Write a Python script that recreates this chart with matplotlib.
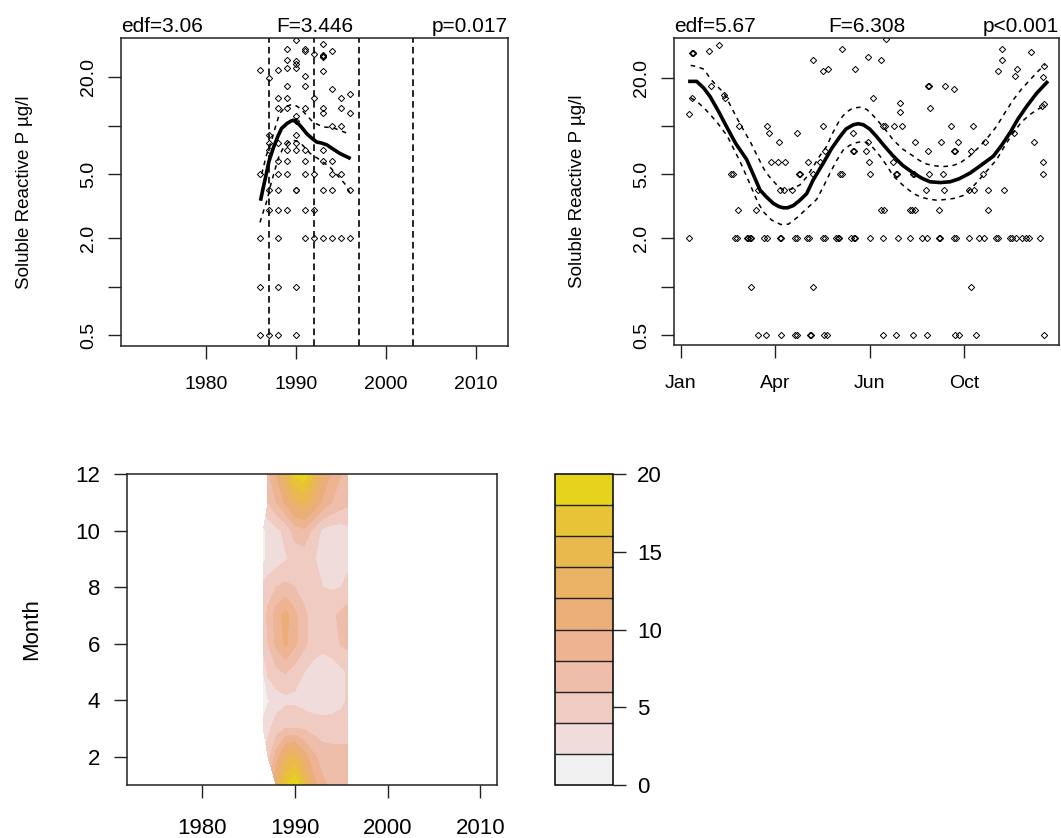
import numpy as np
import matplotlib
matplotlib.use("Agg")
import matplotlib.pyplot as plt
from matplotlib.colors import ListedColormap, BoundaryNorm

plt.rcParams['font.family'] = ['Liberation Sans', 'DejaVu Sans']

# ---- trend panel (year) ----
tl_year = [1986]*5 + [1987]*7 + [1988]*11 + [1989]*11 + [1990]*13 + [1991]*10 \
    + [1992]*5 + [1993]*11 + [1994]*7 + [1995]*5 + [1996]*4
tl_val = [22.3, 5.0, 2.0, 1.0, 0.5,
          19.8, 8.8, 7.8, 7.0, 4.0, 3.0, 0.5,
          22.3, 14.8, 12.9, 7.8, 6.0, 5.0, 4.0, 3.0, 2.0, 1.0, 0.5,
          29.7, 25.5, 22.8, 17.6, 14.8, 12.9, 7.8, 7.0, 6.0, 5.0, 3.0,
          34.0, 25.3, 24.0, 22.8, 11.5, 10.7, 8.8, 7.8, 7.0, 4.0, 4.0, 1.0, 0.5,
          29.7, 29.0, 20.3, 17.6, 12.9, 7.0, 6.0, 5.0, 3.0, 2.0,
          27.7, 14.8, 5.0, 3.0, 2.0,
          31.9, 27.0, 27.4, 26.6, 21.8, 12.9, 12.0, 7.0, 6.0, 4.0, 2.0,
          29.0, 16.9, 10.0, 6.0, 5.0, 4.0, 2.0,
          14.8, 12.9, 10.0, 5.0, 2.0,
          15.6, 12.0, 4.0, 2.0]

tl_fit_x = [1986.1, 1986.4, 1986.7, 1987.0, 1987.5, 1988.0, 1988.4, 1989.0, 1989.5, 1989.8, 1990.1,
            1990.6, 1991.2, 1991.7, 1992.3, 1992.8, 1993.4, 1994.2, 1994.9, 1995.9]
tl_fit = [3.5, 4.2, 5.0, 6.0, 7.3, 8.6, 9.6, 10.3, 10.7, 10.8, 10.5,
          9.8, 8.9, 8.4, 7.9, 7.8, 7.6, 7.1, 6.7, 6.3]
tl_up_x = [1986.2, 1986.7, 1987.3, 1987.8, 1988.2, 1988.8, 1989.3, 1989.7, 1990.1, 1990.6, 1991.0,
           1991.9, 1993.0, 1994.1, 1995.6]
tl_up = [5.0, 6.5, 8.1, 10.2, 11.9, 13.0, 13.4, 13.5, 13.2, 12.6, 11.9,
         10.5, 9.8, 9.7, 9.0]
tl_lo_x = [1986.0, 1986.4, 1986.8, 1987.2, 1987.7, 1988.1, 1988.6, 1989.2, 1989.7, 1990.1, 1990.6,
           1991.6, 1992.7, 1993.8, 1994.9, 1995.5, 1996.0]
tl_lo = [2.5, 2.95, 3.45, 4.3, 5.4, 6.4, 7.3, 7.9, 8.1, 8.0, 7.7,
         6.7, 6.1, 5.5, 4.7, 4.3, 3.8]
tl_vlines = [1987, 1992, 1997, 2003]

# ---- seasonal panel (day of year) ----
sr_day = [82, 89.8, 105.7, 121, 122.5, 136.5, 138, 151.6, 155.2, 214.2, 228.4, 246.4, 261.3, 290.6, 294.8, 313.2, 385,
          73.9, 140.4, 307.2,
          8.5, 57.3, 59.7, 70, 71.5, 73, 74, 88, 91.6, 104.5, 106.5, 120.5, 122.5, 134, 135.5, 151, 153, 164, 166,
          167.5, 179.9, 183, 185, 200, 214.2, 230.1, 242.9, 255.9, 261.3, 273.5, 275, 289.5, 291.5, 305.5, 316,
          321.3, 334.5, 336.5, 348.5, 350.5, 354.9, 362, 365.5, 369, 380.4,
          60.8, 79.2, 212, 215, 242.5, 244.5, 247.8, 273.6, 325.6,
          81.3, 105, 109.2, 118, 259.5, 279.3, 305.6, 310.8, 325.9, 342.6,
          52.7, 55.5, 125, 126, 140.3, 169, 170.5, 200.5, 228, 229.5, 245.5, 247, 263.4, 277.5, 319.9, 383.6,
          95.6, 102.7, 109.8, 135, 147.4, 199.5, 225, 383.6,
          152.7, 182, 183.5, 196, 262.3, 290, 291, 308,
          104, 198.6, 248, 275.7, 293.4, 322.7, 374.7,
          93.3, 123.3, 182, 352.8,
          61.5, 91.5, 151, 214, 216.3, 226.2, 234, 286.2, 309.1,
          8.5, 232.2, 264, 385, 383,
          12, 45.6, 46.5, 203.3, 232.2,
          32, 262.3, 262.7, 280.3, 289.8,
          151, 156, 184.5, 335.8, 354.5, 356, 383.6, 385.3,
          11.5, 12.5, 13, 29.7, 40.3, 140.3, 170.4, 198.6, 211.8, 217.4, 340.4, 340.4, 371.2]
sr_val = [0.5]*17 + [1.0]*3 + [2.0]*45 + [3.0]*9 + [4.0]*10 + [5.0]*16 + [6.0]*8 + [7.0]*8 \
    + [8.0]*7 + [9.0]*4 + [10.0]*9 \
    + [11.9, 12.2, 13.0, 13.7, 13.3] \
    + [14.9, 15.7, 15.0, 15.0, 14.0] \
    + [17.9, 17.8, 17.8, 17.8, 17.0] \
    + [22.0, 22.6, 22.6, 22.0, 20.6, 22.6, 20.1, 23.6] \
    + [28.5, 28.7, 28.4, 29.4, 31.9, 25.9, 30.4, 26.8, 25.9, 34.8, 30.4, 26.0, 29.0]

sr_fit_x = [9.5, 16.6, 24, 30.8, 40, 48.4, 58, 69.6, 76, 83.8, 90, 97.9, 104, 108.5, 113, 119.1, 126,
            133.3, 140, 151, 160, 168.6, 175, 182.8, 188, 193.3, 200, 207.5, 215, 225.1, 235, 246.4,
            255, 264, 275, 285.3, 295, 306.5, 318, 331.2, 340, 348.9, 357, 366.6, 377, 387.8]
sr_fit = [19.0, 19.0, 17.3, 15.3, 12.3, 9.9, 7.8, 6.2, 5.1, 4.0, 3.65, 3.3, 3.15, 3.1, 3.1, 3.2, 3.45,
          3.8, 4.6, 5.9, 7.3, 8.6, 9.6, 10.2, 10.35, 10.2, 9.6, 8.6, 7.6, 6.5, 5.7, 5.1,
          4.75, 4.5, 4.45, 4.5, 4.7, 5.1, 5.7, 6.5, 7.6, 9.1, 11.0, 13.3, 16.0, 18.7]
sr_up_x = [10.3, 17, 24.4, 31.5, 38, 45.6, 52, 59.7, 67, 73.9, 81, 88, 93, 98.6, 104, 109, 117, 126,
           133, 140.3, 147, 154.5, 161, 168.6, 175, 182.8, 190, 197, 204, 211, 218, 225, 235,
           246.4, 253, 260.6, 270, 278.2, 287, 296, 306, 317, 326, 334.8, 343, 352.4, 361, 370, 378, 386]
sr_up = [23.9, 23.5, 22.6, 19.6, 17.8, 16.1, 13.6, 11.1, 9.3, 7.9, 6.5, 5.4, 4.9, 4.5, 4.15, 4.0, 4.05, 4.3,
         4.8, 5.6, 6.5, 7.5, 9.1, 11.0, 12.2, 13.0, 13.1, 12.7, 11.6, 10.4, 9.3, 8.2, 7.2,
         6.5, 6.1, 5.8, 5.65, 5.6, 5.65, 5.9, 6.5, 7.5, 8.6, 10.0, 12.0, 14.6, 17.0, 19.4, 21.8, 24.2]
sr_lo_x = [10.3, 17, 24.4, 31, 38.5, 49, 56, 63.3, 70, 77.4, 82, 88, 96, 105.7, 114, 123.3, 133,
           143.9, 151, 158, 165, 172, 179, 186.3, 192, 197, 204, 211, 218, 225, 235,
           246.4, 255, 264, 272, 281.7, 290, 299.4, 308, 317, 326, 334.8, 343, 352.4, 361, 370, 377, 384]
sr_lo = [15.0, 14.2, 13.0, 11.8, 10.5, 8.7, 7.2, 5.9, 4.8, 3.8, 3.3, 2.9, 2.6, 2.44, 2.45, 2.7, 3.05,
         3.5, 4.2, 5.1, 6.1, 7.1, 7.6, 7.9, 8.0, 7.9, 7.3, 6.5, 5.7, 4.9, 4.3,
         3.8, 3.6, 3.5, 3.45, 3.5, 3.55, 3.7, 4.1, 4.7, 5.4, 6.2, 7.5, 9.1, 10.6, 11.8, 12.6, 13.3]
sr_ticks = [0, 100, 200, 300]
sr_labels = ["Jan", "Apr", "Jun", "Oct"]

# ---- year x month surface ----
hm_years = [1986.6, 1987.1, 1988, 1989, 1990, 1991, 1992, 1993, 1994, 1995, 1995.7]
hm_months = [1, 2, 3, 4, 5, 6, 7, 8, 9, 10, 11, 12]
nan = np.nan
hm_vals = [
    [nan, nan, 12, 18, 19.8, 16, 11, 8.5, 7.5, 7, 7],
    [nan, 5, 9, 13, 14.5, 11, 8.5, 7, 6.8, 6.8, 6.8],
    [2.5, 3.5, 5, 6, 6, 5.8, 5.2, 5, 5, 5, 5],
    [1.2, 1.8, 3, 3.5, 3.5, 3, 2.8, 2.8, 3, 3.5, 4.2],
    [2, 4.5, 5.5, 6.2, 5, 4, 3.2, 3, 3, 3.5, 4.2],
    [5, 6, 8.5, 10.3, 8.5, 6.5, 5, 4.5, 5, 6.2, 6.5],
    [5, 6.5, 9, 10.8, 8.5, 6.5, 5, 4.8, 5.5, 6.5, 7],
    [4.5, 5, 6, 6.5, 6, 5, 4.5, 4, 3.8, 4, 4.5],
    [1.5, 2.5, 3, 3.8, 4.5, 4.8, 4.2, 3.2, 2.8, 3, 3.5],
    [1.5, 2.5, 3.5, 4.5, 7, 7.5, 5.5, 3.5, 3, 3, 3.5],
    [nan, 6, 8, 10.5, 13, 14, 12, 9.5, 8, 7, 6.5],
    [nan, 7.5, 10, 14, 18.5, 19.5, 16, 12, 9.5, 8, 7],
]
hm_levels = [0, 2, 4, 6, 8, 10, 12, 14, 16, 18, 20]
hm_colors = ["#F1F1F1", "#F0DCDA", "#EFCBC2", "#EFBEAA", "#EEB391",
             "#ECAE79", "#EAB264", "#E9B94E", "#E8C337", "#E6D31C"]

W, H = 1061, 838
fig = plt.figure(figsize=(W / 100, H / 100), dpi=100)


def box(l, t, r, b):
    return [l / W, 1 - b / H, (r - l) / W, (b - t) / H]


def style(ax, fs):
    for s in ax.spines.values():
        s.set_linewidth(1.1)
        s.set_color("#222222")
    ax.tick_params(direction="out", length=9.4, width=1.0, labelsize=fs, color="#222222")


def log_y(ax):
    ax.set_yscale("log")
    ax.set_yticks([0.5, 1, 2, 5, 10, 20])
    ax.set_yticklabels(["0.5", "", "2.0", "5.0", "", "20.0"], rotation=90, va="center")
    ax.minorticks_off()
    ax.tick_params(axis="y", pad=8)
    ax.tick_params(axis="x", pad=12)
    ax.set_ylabel("Soluble Reactive P µg/l", fontsize=13.5, labelpad=34)


def stats(ax, a, b, c):
    ax.set_title(a, loc="left", fontsize=15, pad=4)
    ax.set_title(b, loc="center", fontsize=15, pad=4)
    ax.set_title(c, loc="right", fontsize=15, pad=4)


pt = dict(marker="D", ms=3.2, mfc="none", mec="black", mew=0.7, ls="none")
ci = dict(color="black", lw=1.1, dashes=(3, 3))

# top left
ax1 = fig.add_axes(box(121, 38, 508, 346))
style(ax1, 14)
ax1.plot(tl_year, tl_val, **pt)
ax1.plot(tl_fit_x, tl_fit, color="black", lw=2.6)
ax1.plot(tl_up_x, tl_up, **ci)
ax1.plot(tl_lo_x, tl_lo, **ci)
for v in tl_vlines:
    ax1.axvline(v, color="black", lw=1.2, dashes=(4, 2.5))
log_y(ax1)
ax1.set_xlim(1970.56, 2013.56)
ax1.set_ylim(0.427, 35)
ax1.set_xticks([1980, 1990, 2000, 2010])
stats(ax1, "edf=3.06", "F=3.446", "p=0.017")

# top right
ax2 = fig.add_axes(box(674, 38, 1059, 345))
style(ax2, 14)
ax2.plot(sr_day, sr_val, **pt)
ax2.plot(sr_fit_x, sr_fit, color="black", lw=2.6)
ax2.plot(sr_up_x, sr_up, **ci)
ax2.plot(sr_lo_x, sr_lo, **ci)
log_y(ax2)
ax2.set_xlim(-7.4, 400.8)
ax2.set_ylim(0.433, 35.4)
ax2.set_xticks(sr_ticks)
ax2.set_xticklabels(sr_labels)
stats(ax2, "edf=5.67", "F=6.308", "p<0.001")

# bottom: filled contour over year and month
ax3 = fig.add_axes(box(127, 474, 497, 785))
style(ax3, 16)
cmap = ListedColormap(hm_colors)
norm = BoundaryNorm(hm_levels, cmap.N)
Z = np.ma.masked_invalid(np.array(hm_vals, dtype=float))
cs = ax3.contourf(hm_years, hm_months, Z, levels=hm_levels, cmap=cmap, norm=norm)
ax3.set_xlim(1971.9, 2011.8)
ax3.set_ylim(1, 12)
ax3.set_xticks([1980, 1990, 2000, 2010])
ax3.set_yticks([2, 4, 6, 8, 10, 12])
ax3.tick_params(axis="x", pad=14)
ax3.tick_params(axis="y", pad=10)
ax3.set_ylabel("Month", fontsize=16, labelpad=24)

cax = fig.add_axes(box(555, 474, 613, 785))
cb = fig.colorbar(cs, cax=cax, drawedges=True, ticks=[0, 5, 10, 15, 20])
cb.outline.set_linewidth(1.1)
cb.dividers.set_linewidth(1.0)
cb.dividers.set_color("#222222")
cax.minorticks_off()
cax.tick_params(direction="out", length=9.4, width=1.0, labelsize=16, pad=8, color="#222222")

fig.savefig("out.png", dpi=100)
